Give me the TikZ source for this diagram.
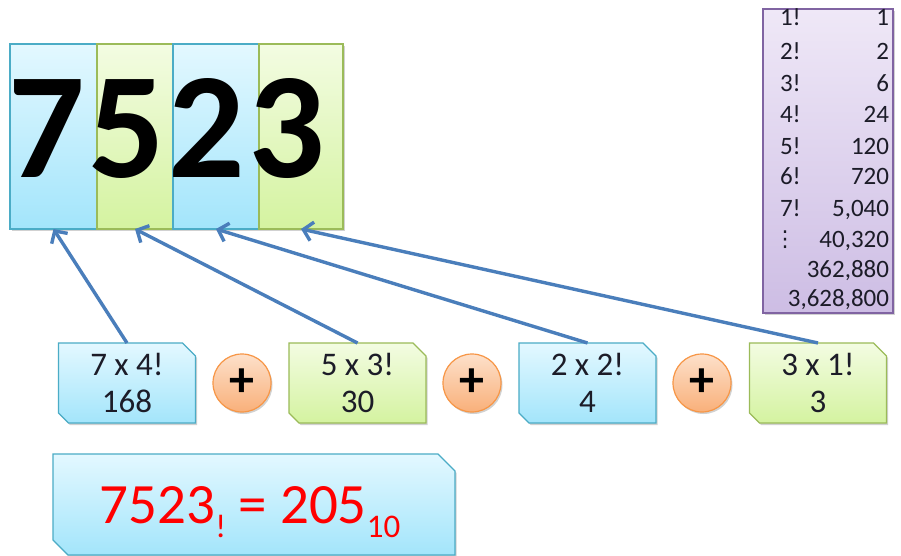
\documentclass[tikz,border=0pt]{standalone}
\usepackage{fontspec}
\setmainfont{Carlito}
\newfontfamily\symfont{DejaVu Sans}
\usetikzlibrary{arrows.meta,shadows}
\pgfdeclarelayer{paper}
\pgfdeclarelayer{shapes}
\pgfsetlayers{paper,shapes,main}
\definecolor{bluetop}{HTML}{E3F8FF}
\definecolor{bluebot}{HTML}{A3E5FB}
\definecolor{blueedge}{HTML}{4BACC6}
\definecolor{greentop}{HTML}{F3FCE2}
\definecolor{greenbot}{HTML}{D4F3A0}
\definecolor{greenedge}{HTML}{9BBB59}
\definecolor{purptop}{HTML}{EFE8F7}
\definecolor{purpbot}{HTML}{CDBDE4}
\definecolor{purpedge}{HTML}{8064A2}
\definecolor{orgtop}{HTML}{FDE0CA}
\definecolor{orgbot}{HTML}{F9B07A}
\definecolor{orgedge}{HTML}{F79646}
\definecolor{arrowblue}{HTML}{4A7EBB}
\definecolor{txtdark}{HTML}{1C1C28}
% snipped outline behind a named node: #1 node, #2 fill style, #3 top-right cut, #4 bottom-left cut
\newcommand\snipshape[4]{%
  \begin{pgfonlayer}{shapes}
  \path[#2, shade] (#1.north west) -- ([xshift=-#3]#1.north east) -- ([yshift=-#3]#1.north east)
    -- (#1.south east) -- ([xshift=#4]#1.south west) -- ([yshift=#4]#1.south west) -- cycle;
  \end{pgfonlayer}}
\begin{document}
\begin{tikzpicture}[x=1pt,y=-1pt,
  every node/.style={inner sep=0pt, outer sep=0pt},
  shade/.style={drop shadow={shadow xshift=1.5pt, shadow yshift=-2pt, opacity=0.18, fill=black}},
  bluefill/.style={draw=blueedge, line width=1.2pt, top color=bluetop, bottom color=bluebot},
  greenfill/.style={draw=greenedge, line width=1.2pt, top color=greentop, bottom color=greenbot},
  digitbox/.style={rectangle, shade, minimum height=185pt},
  bigdigit/.style={anchor=base, font=\bfseries\fontsize{151}{151}\selectfont},
  termbox/.style={rectangle, minimum width=137pt, minimum height=80pt, align=center, text=txtdark,
    font=\fontsize{33}{37}\selectfont},
  plus/.style={circle, minimum size=58pt, draw=orgedge, line width=1.2pt, top color=orgtop,
    bottom color=orgbot, shade, font=\bfseries\fontsize{50}{50}\selectfont},
  tablab/.style={anchor=base west, text=txtdark, font=\fontsize{25}{25}\selectfont},
  tabval/.style={anchor=base east, text=txtdark, font=\fontsize{25}{25}\selectfont},
  arr/.style={draw=arrowblue, line width=3.4pt, -{Straight Barb[length=9pt, width=19pt]}}
]
\begin{pgfonlayer}{paper}
\useasboundingbox[fill=white] (0,0) rectangle (901,556);
\end{pgfonlayer}

% digit boxes
\node[digitbox, bluefill, minimum width=87pt] (d1) at (53.5,136.5) {};
\node[digitbox, greenfill, minimum width=76pt] (d2) at (135,136.5) {};
\node[digitbox, bluefill, minimum width=86pt] (d3) at (216,136.5) {};
\node[digitbox, greenfill, minimum width=84pt] (d4) at (301,136.5) {};
\node[bigdigit] (g1) at (47,177) {7};
\node[bigdigit] (g2) at (127,177) {5};
\node[bigdigit] (g3) at (207,177) {2};
\node[bigdigit] (g4) at (287,177) {3};

% factorial table
\node[rectangle, draw=purpedge, line width=1.2pt, top color=purptop, bottom color=purpbot, shade,
  minimum width=130pt, minimum height=304pt] (tab) at (828,161) {};
\node[tablab] (l1) at (780,26) {1!};
\node[tablab] (l2) at (780,60) {2!};
\node[tablab] (l3) at (780,92) {3!};
\node[tablab] (l4) at (780,123) {4!};
\node[tablab] (l5) at (780,154) {5!};
\node[tablab] (l6) at (780,185) {6!};
\node[tablab] (l7) at (780,216) {7!};
\node[text=txtdark, font=\symfont\fontsize{22}{22}\selectfont] (l8) at (785,240) {⋮};
\node[tabval] (v1) at (889,26) {1};
\node[tabval] (v2) at (889,60) {2};
\node[tabval] (v3) at (889,92) {6};
\node[tabval] (v4) at (889,123) {24};
\node[tabval] (v5) at (889,154) {120};
\node[tabval] (v6) at (889,185) {720};
\node[tabval] (v7) at (889,216) {5,040};
\node[tabval] (v8) at (889,247) {40,320};
\node[tabval] (v9) at (889,277) {362,880};
\node[tabval] (v10) at (889,306) {3,628,800};

% term boxes
\node[termbox] (b1) at (127,383) {7 x 4!\\168};
\node[termbox] (b2) at (357.5,383) {5 x 3!\\30};
\node[termbox] (b3) at (587.5,383) {2 x 2!\\4};
\node[termbox] (b4) at (818,383) {3 x 1!\\3};
\snipshape{b1}{bluefill}{13pt}{10pt}
\snipshape{b2}{greenfill}{13pt}{10pt}
\snipshape{b3}{bluefill}{13pt}{10pt}
\snipshape{b4}{greenfill}{13pt}{10pt}

% plus circles
\node[plus] (p1) at (242,383) {+};
\node[plus] (p2) at (472,383) {+};
\node[plus] (p3) at (702,383) {+};

% arrows
\draw[arr] (b1.north) -- (d1.south);
\draw[arr] (b2.north) -- (d2.south);
\draw[arr] (b3.north) -- (d3.south);
\draw[arr] (b4.north) -- (d4.south);

% result box
\node[rectangle, minimum width=402pt, minimum height=101pt] (res) at (254,504.5) {};
\snipshape{res}{bluefill}{17pt}{15pt}
\node[anchor=base, text=red, font=\fontsize{57}{60}\selectfont] (restxt) at (250,523)
  {7523\lower14pt\hbox{\fontsize{33}{36}\selectfont !} = 205\lower14pt\hbox{\fontsize{33}{36}\selectfont 10}};
\end{tikzpicture}
\end{document}
